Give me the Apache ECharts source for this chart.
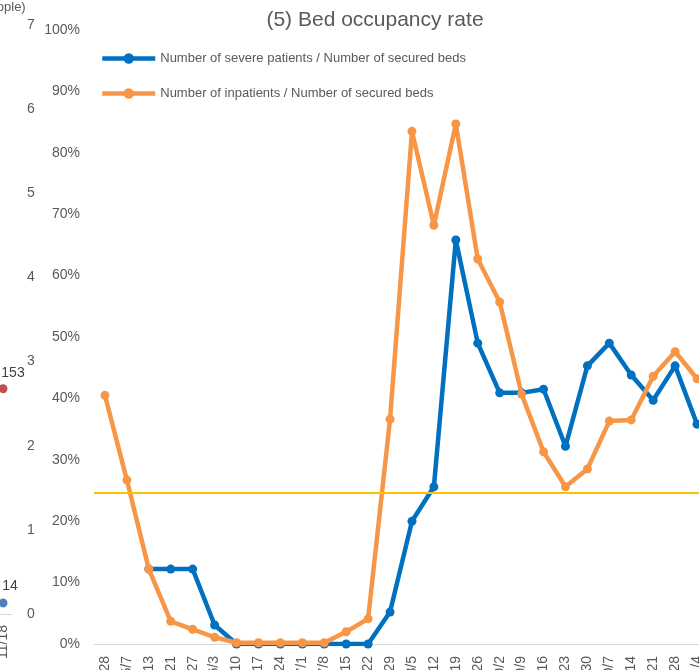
<!DOCTYPE html>
<html>
<head>
<meta charset="utf-8">
<style>
  html, body { margin: 0; padding: 0; background: #fff; }
  #chart { width: 699px; height: 670px; }
</style>
<script src="https://cdn.jsdelivr.net/npm/echarts@6/dist/echarts.min.js"></script>
</head>
<body>
<div id="chart"></div>
<script>
// Weekly reporting dates
var dates = ['4/28','5/7','5/13','5/21','5/27','6/3','6/10','6/17','6/24','7/1','7/8','7/15','7/22','7/29',
             '8/5','8/12','8/19','8/26','9/2','9/9','9/16','9/23','9/30','10/7','10/14','10/21','10/28','11/4'];

// Severe patients / secured beds (%)
var severeRate = [null, null, 12.2, 12.2, 12.2, 3.1, 0, 0, 0, 0, 0, 0, 0, 5.2,
                  20.0, 25.6, 65.8, 49.0, 40.9, 40.9, 41.5, 32.2, 45.3, 49.0, 43.8, 39.7, 45.3, 35.8];

// Inpatients / secured beds (%)
var inpatientRate = [40.5, 26.7, 12.2, 3.7, 2.4, 1.1, 0.2, 0.2, 0.2, 0.2, 0.2, 2.0, 4.1, 36.6,
                     83.5, 68.2, 84.7, 62.7, 55.7, 40.7, 31.3, 25.6, 28.5, 36.3, 36.5, 43.6, 47.6, 43.2];

// Reference level (%)
var referenceLevel = 24.7;

// Neighbouring panel: last date and its two values
var sideDates = ['11/18'];
var sideInpatients = [153];
var sideSevere = [14];
var sideAxisTicks = [0, 7];

var grey = '#595959';
var font = 'Liberation Sans, Arial, sans-serif';
var blue = '#0070C0';
var orange = '#F79646';

var severeName = 'Number of severe patients / Number of secured beds';
var inpatientName = 'Number of inpatients / Number of secured beds';

var chart = echarts.init(document.getElementById('chart'), null, { renderer: 'canvas' });

chart.setOption({
  animation: false,
  backgroundColor: '#ffffff',
  textStyle: { fontFamily: font },
  title: [
    {
      text: '(5) Bed occupancy rate',
      left: 370, top: 5, textAlign: 'center',
      textStyle: { color: grey, fontSize: 21, fontWeight: 'normal', fontFamily: font }
    },
    {
      text: '(people)',
      left: -27, top: -4,
      textStyle: { color: grey, fontSize: 13, fontWeight: 'normal', fontFamily: font }
    }
  ],
  legend: {
    orient: 'vertical',
    left: 95, top: 47,
    itemWidth: 53, itemHeight: 13, itemGap: 22,
    textStyle: { color: grey, fontSize: 13, fontFamily: font },
    data: [
      { name: severeName, lineStyle: { width: 4.5, color: blue } },
      { name: inpatientName, lineStyle: { width: 4.5, color: orange } }
    ]
  },
  grid: [
    { left: 94, top: 30, width: 614, height: 614, outerBoundsMode: 'none', containLabel: false },
    { left: -6, top: 25, width: 18, height: 589, outerBoundsMode: 'none', containLabel: false }
  ],
  xAxis: [
    {
      type: 'category', gridIndex: 0, data: dates, boundaryGap: true,
      axisLine: { lineStyle: { color: '#D9D9D9', width: 1 } },
      axisTick: { show: false },
      axisLabel: { rotate: 90, color: grey, fontSize: 14, margin: 12, interval: 0, fontFamily: font }
    },
    {
      type: 'category', gridIndex: 1, data: sideDates, boundaryGap: true,
      axisLine: { lineStyle: { color: '#D9D9D9', width: 1 } },
      axisTick: { show: false },
      axisLabel: { rotate: 90, color: grey, fontSize: 14, margin: 11, fontFamily: font }
    }
  ],
  yAxis: [
    {
      type: 'value', gridIndex: 0, min: 0, max: 100, interval: 10,
      axisLine: { show: false }, axisTick: { show: false }, splitLine: { show: false },
      axisLabel: { formatter: '{value}%', color: grey, fontSize: 14, margin: 14, fontFamily: font }
    },
    {
      type: 'value', gridIndex: 1, position: 'right',
      min: sideAxisTicks[0], max: sideAxisTicks[1], interval: 1,
      axisLine: { show: false }, axisTick: { show: false }, splitLine: { show: false },
      axisLabel: { color: grey, fontSize: 14, margin: 15, fontFamily: font }
    },
    {
      type: 'value', gridIndex: 1, min: 0, max: 400, show: false, splitLine: { show: false }
    },
    {
      type: 'value', gridIndex: 1, min: 0, max: 750, show: false, splitLine: { show: false }
    }
  ],
  series: [
    {
      name: severeName,
      type: 'line', xAxisIndex: 0, yAxisIndex: 0,
      data: severeRate,
      connectNulls: false,
      symbol: 'circle', symbolSize: 9,
      lineStyle: { color: blue, width: 4.5 },
      itemStyle: { color: blue },
      z: 3
    },
    {
      name: inpatientName,
      type: 'line', xAxisIndex: 0, yAxisIndex: 0,
      data: inpatientRate,
      symbol: 'circle', symbolSize: 9,
      lineStyle: { color: orange, width: 4.5 },
      itemStyle: { color: orange },
      z: 4,
      markLine: {
        silent: true, symbol: ['none', 'none'],
        label: { show: false },
        lineStyle: { color: '#FFC000', width: 2, type: 'solid' },
        data: [{ yAxis: referenceLevel }],
        z: 6
      }
    },
    {
      type: 'line', xAxisIndex: 1, yAxisIndex: 2,
      data: sideInpatients,
      symbol: 'circle', symbolSize: 9,
      itemStyle: { color: '#C0504D' },
      label: { show: true, position: 'top', distance: 4, offset: [10, 0], color: '#404040', fontSize: 14, fontFamily: font }
    },
    {
      type: 'line', xAxisIndex: 1, yAxisIndex: 3,
      data: sideSevere,
      symbol: 'circle', symbolSize: 9,
      itemStyle: { color: '#4F81BD' },
      label: { show: true, position: 'top', distance: 5, offset: [7, 0], color: '#404040', fontSize: 14, fontFamily: font }
    }
  ]
});
</script>
</body>
</html>
